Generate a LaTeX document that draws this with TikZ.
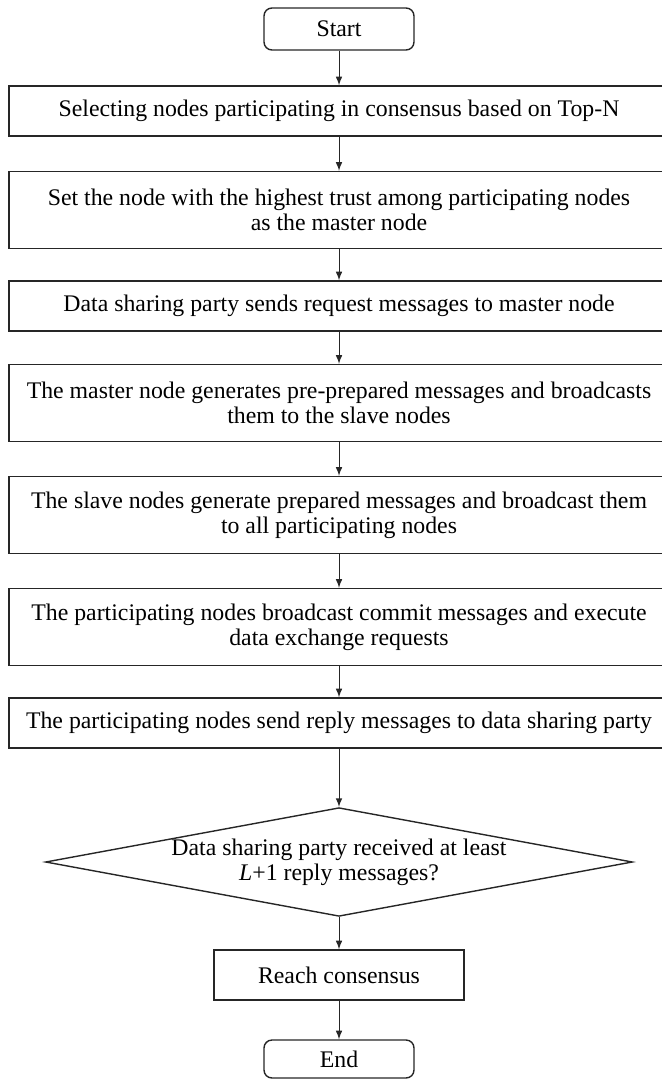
\documentclass[tikz,border=0pt]{standalone}
\usepackage{fontspec}
\setmainfont{Liberation Serif}
\usetikzlibrary{shapes.geometric}
\begin{document}
\begin{tikzpicture}[x=0.5pt, y=-0.5pt, >=latex,
    font=\fontsize{11.9}{12.5}\selectfont,
    stepbox/.style={draw=black!85, line width=0.7pt, rectangle, align=center,
      minimum width=330pt, minimum height=25pt, inner sep=2pt},
    tallbox/.style={stepbox, minimum height=38.5pt},
    terminal/.style={draw=black!85, line width=0.7pt, rectangle, rounded corners=4pt,
      minimum width=75pt, minimum height=21pt},
    decision/.style={draw=black!85, line width=0.7pt, diamond, aspect=5.4, align=center,
      minimum width=292.5pt, minimum height=54pt, inner sep=0pt},
    flow/.style={->, draw=black!85, line width=0.5pt}]
  \useasboundingbox (0,0) rectangle (661,1080);
  \node[terminal] at (339,29) (start) {Start};
  \node[stepbox] at (339,111) (select) {Selecting nodes participating in consensus based on Top-N};
  \node[tallbox] at (339,210) (master) {Set the node with the highest trust among participating nodes\\as the master node};
  \node[stepbox] at (339,306) (request) {Data sharing party sends request messages to master node};
  \node[tallbox] at (339,403) (preprep) {The master node generates pre-prepared messages and broadcasts\\them to the slave nodes};
  \node[tallbox] at (339,515) (prepare) {The slave nodes generate prepared messages and broadcast them\\to all participating nodes};
  \node[tallbox] at (339,627) (commit) {The participating nodes broadcast commit messages and execute\\data exchange requests};
  \node[stepbox] at (339,723) (reply) {The participating nodes send reply messages to data sharing party};
  \node[decision] at (339,862) (check) {Data sharing party received at least\\\textit{L}+1 reply messages?};
  \node[stepbox, minimum width=125pt] at (339,975) (consensus) {Reach consensus};
  \node[terminal, minimum height=19pt] at (339,1059) (finish) {End};
  % connectors
  \draw[flow] (start) -- (select);
  \draw[flow] (select) -- (master);
  \draw[flow] (master) -- (request);
  \draw[flow] (request) -- (preprep);
  \draw[flow] (preprep) -- (prepare);
  \draw[flow] (prepare) -- (commit);
  \draw[flow] (commit) -- (reply);
  \draw[flow] (reply) -- (check);
  \draw[flow] (check) -- (consensus);
  \draw[flow] (consensus) -- (finish);
\end{tikzpicture}
\end{document}
